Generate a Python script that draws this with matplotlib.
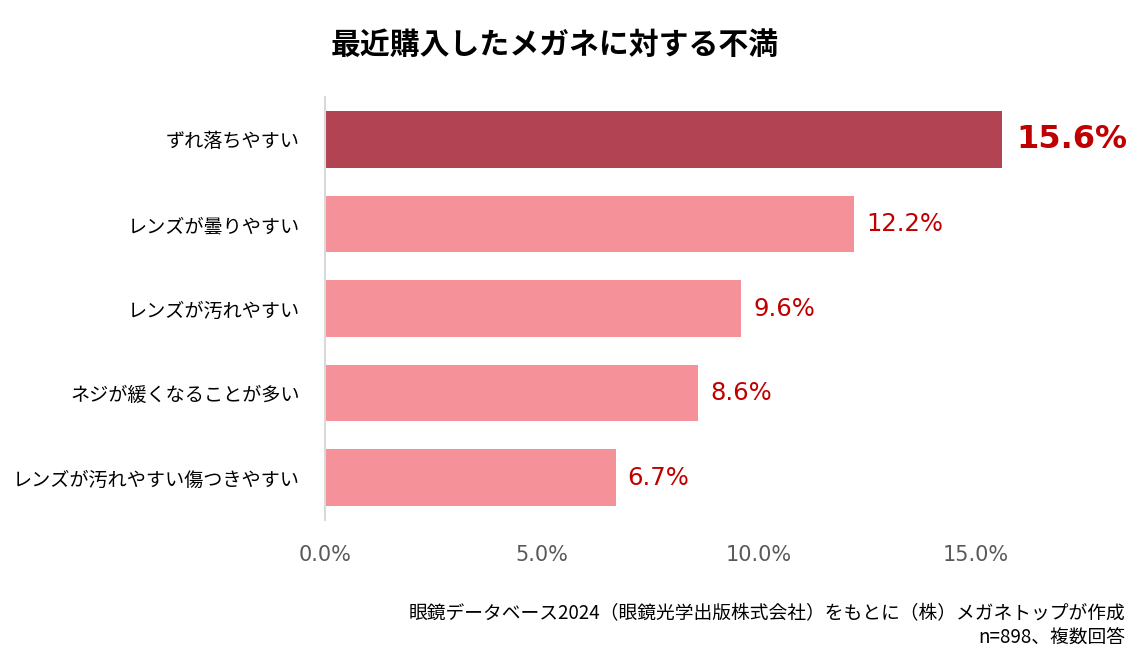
import matplotlib.pyplot as plt

plt.rcParams['font.family'] = ['Noto Sans CJK JP', 'DejaVu Sans']

# data
categories = ['ずれ落ちやすい', 'レンズが曇りやすい', 'レンズが汚れやすい',
              'ネジが緩くなることが多い', 'レンズが汚れやすい傷つきやすい']
values = [15.6, 12.2, 9.6, 8.6, 6.7]
ticks = [0, 5, 10, 15]
tick_labels = ['0.0%', '5.0%', '10.0%', '15.0%']

dark = '#B24352'
light = '#F59198'
label_red = '#C00000'

fig = plt.figure(figsize=(11.4, 6.65), dpi=100)
ax = fig.add_axes([0.285, 0.218, 0.685, 0.636])

ypos = list(range(len(categories)))
colors = [dark] + [light] * (len(categories) - 1)
ax.barh(ypos, values, height=0.67, color=colors)
ax.set_ylim(len(categories) - 0.5, -0.5)
ax.set_xlim(0, 18)

for i, v in enumerate(values):
    if i == 0:
        ax.text(v + 0.33, i, f'{v:.1f}%', va='center', ha='left',
                fontsize=23, fontweight='bold', color=label_red,
                family='DejaVu Sans')
    else:
        ax.text(v + 0.28, i, f'{v:.1f}%', va='center', ha='left',
                fontsize=17.5, color=label_red, family='DejaVu Sans')

ax.set_yticks(ypos)
ax.set_yticklabels(categories, fontsize=13.8)
ax.set_xticks(ticks)
ax.set_xticklabels(tick_labels, fontsize=15, color='#595959',
                   family='DejaVu Sans')
ax.tick_params(axis='both', length=0)
ax.tick_params(axis='x', pad=18)
ax.tick_params(axis='y', pad=18)

for s in ['top', 'right', 'bottom']:
    ax.spines[s].set_visible(False)
ax.spines['left'].set_color('#D9D9D9')
ax.spines['left'].set_linewidth(1.5)

fig.text(0.487, 0.932, '最近購入したメガネに対する不満', ha='center', va='center',
         fontsize=21.5, fontweight='bold')
fig.text(0.987, 0.06, '眼鏡データベース2024（眼鏡光学出版株式会社）をもとに（株）メガネトップが作成\nn=898、複数回答',
         ha='right', va='center', fontsize=13.5, linespacing=1.15)

fig.savefig('out.png')
